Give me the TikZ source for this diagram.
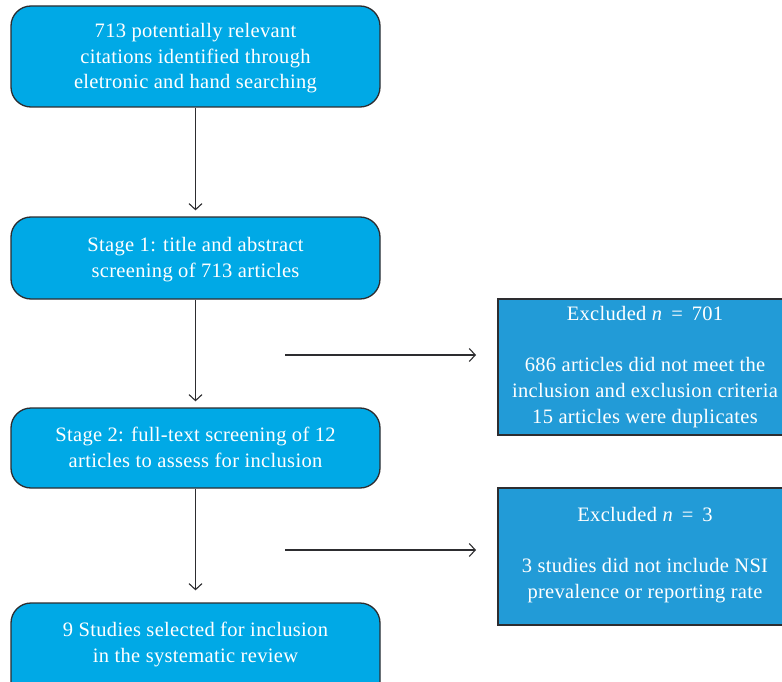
\documentclass[tikz,border=0pt]{standalone}
\usepackage{fontspec}
\setmainfont{Liberation Serif}[LetterSpace=1.6]
\usetikzlibrary{arrows.meta}
\definecolor{leftfill}{RGB}{0,169,230}
\definecolor{rightfill}{RGB}{34,155,215}
\definecolor{edge}{RGB}{45,45,48}
\tikzset{
  boxfont/.style={font=\fontsize{20.5}{25.7}\selectfont},
  stagebox/.style={draw=edge, line width=1.3pt, fill=leftfill, rounded corners=20pt,
    minimum width=369pt, inner sep=0pt},
  exclbox/.style={draw=edge, line width=1.3pt, fill=rightfill,
    minimum width=296pt, inner sep=0pt},
  boxtext/.style={text=white, align=center, boxfont, inner sep=0pt, anchor=base},
  conn/.style={draw=edge, line width=1.1pt, -{Straight Barb[length=6pt,width=13pt,line width=1.1pt]}}
}
\begin{document}
\begin{tikzpicture}[x=1pt,y=-1pt]
\useasboundingbox (0,0) rectangle (782,682);
\clip (0,0) rectangle (782,682);
\node[stagebox, minimum height=101pt] (b1) at (195.5,56.5) {};
\node[boxtext] (b1t) at (195.5,89) {713 potentially relevant\\citations identified through\\eletronic and hand searching};
\node[stagebox, minimum height=82pt] (b2) at (195.5,258) {};
\node[boxtext] (b2t) at (195.5,277) {Stage 1: title and abstract\\screening of 713 articles};
\node[stagebox, minimum height=80pt] (b3) at (195.5,448) {};
\node[boxtext] (b3t) at (195.5,467) {Stage 2: full-text screening of 12\\articles to assess for inclusion};
\node[stagebox, minimum height=100pt] (b4) at (195.5,653) {};
\node[boxtext] (b4t) at (195.5,662) {9 Studies selected for inclusion\\in the systematic review};
\node[exclbox, minimum height=136pt] (e1) at (646,367) {};
\node[boxtext] (e1t) at (645,423) {Excluded \textit{n}\, = \,701\\[25pt]686 articles did not meet the\\inclusion and exclusion criteria\\15 articles were duplicates};
\node[exclbox, minimum height=137pt] (e2) at (646,556.5) {};
\node[boxtext] (e2t) at (645,598) {Excluded \textit{n}\, = \,3\\[25pt]3 studies did not include NSI\\prevalence or reporting rate};
\draw[conn, shorten >=6pt] (b1) -- (b2);
\draw[conn, shorten >=6pt] (b2) -- (b3);
\draw[conn, shorten >=12pt] (b3) -- (b4);
\coordinate (h1a) at (285,355);
\coordinate (h1b) at (476,355);
\coordinate (h2a) at (285,550);
\coordinate (h2b) at (476,550);
\draw[conn] (h1a) -- (h1b);
\draw[conn] (h2a) -- (h2b);
\end{tikzpicture}
\end{document}
